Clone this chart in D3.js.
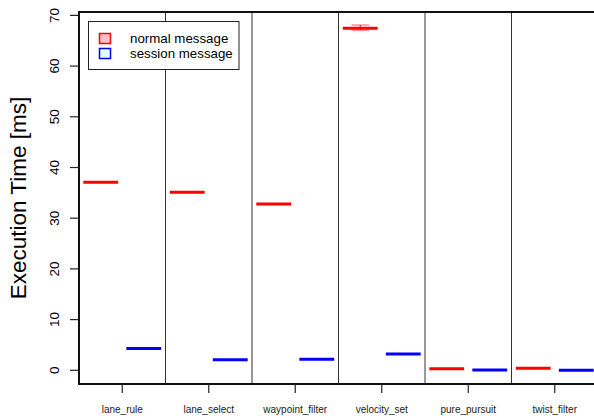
<!DOCTYPE html>
<html>
<head>
<meta charset="utf-8">
<script src="https://cdn.jsdelivr.net/npm/d3@7"></script>
<style>
  html, body { margin: 0; padding: 0; background: #fff; overflow: hidden; }
  text { font-family: "Liberation Sans", Arial, sans-serif; }
</style>
</head>
<body>
<div id="chart"></div>
<script>
// categories & values (ms)
const categories = ['lane_rule', 'lane_select', 'waypoint_filter', 'velocity_set', 'pure_pursuit', 'twist_filter'];
const seriesNames = ['normal message', 'session message'];
const normalMedian = [37.1, 35.1, 32.8, 67.45, 0.3, 0.4];
const normalLow    = [37.1, 35.1, 32.8, 67.05, 0.3, 0.4];
const normalHigh   = [37.1, 35.1, 32.8, 68.1, 0.3, 0.4];
const sessionMedian = [4.3, 2.1, 2.2, 3.2, 0.06, 0.0];
const yTicks = [0, 10, 20, 30, 40, 50, 60, 70];

const W = 594, H = 418;
const svg = d3.select('#chart').append('svg')
    .attr('width', W).attr('height', H);

const plotL = 79, plotT = 12, plotB = 384, step = 86.5;

const x = d3.scaleBand().domain(categories).range([plotL, plotL + step * categories.length]);
const inner = d3.scaleBand().domain(seriesNames).range([0, x.bandwidth()]).paddingInner(0.19).paddingOuter(0.1);
const y = d3.scaleLinear().domain([0, 70]).range([370.3, 15.4]);

const colors = { 'normal message': '#ff0000', 'session message': '#0000ff' };
const fills = { 'normal message': '#ffc0cb', 'session message': '#e0ffff' };

// separators between groups
svg.append('g').selectAll('line')
    .data(categories.slice(1))
    .join('line')
    .attr('x1', d => x(d)).attr('x2', d => x(d))
    .attr('y1', plotT).attr('y2', plotB)
    .attr('stroke', '#333').attr('stroke-width', 1);

// whiskers + staples (only visible where spread exists)
const normalData = categories.map((c, i) => ({ c, s: 'normal message', med: normalMedian[i], lo: normalLow[i], hi: normalHigh[i] }));
const sessionData = categories.map((c, i) => ({ c, s: 'session message', med: sessionMedian[i], lo: sessionMedian[i], hi: sessionMedian[i] }));
const allData = normalData.concat(sessionData);

const marks = svg.append('g');
const cx = d => x(d.c) + inner(d.s) + inner.bandwidth() / 2;
const spread = allData.filter(d => d.hi > d.lo);

marks.selectAll('line.whisker')
    .data(spread)
    .join('line')
    .attr('class', 'whisker')
    .attr('x1', cx).attr('x2', cx)
    .attr('y1', d => y(d.hi)).attr('y2', d => y(d.lo))
    .attr('stroke', d => colors[d.s]).attr('stroke-width', 1).attr('stroke-dasharray', '2,1');

['hi', 'lo'].forEach(k => {
    marks.selectAll('line.staple-' + k)
        .data(spread)
        .join('line')
        .attr('class', 'staple-' + k)
        .attr('x1', d => cx(d) - inner.bandwidth() / 4)
        .attr('x2', d => cx(d) + inner.bandwidth() / 4)
        .attr('y1', d => y(d[k])).attr('y2', d => y(d[k]))
        .attr('stroke', colors['normal message']).attr('stroke-opacity', 0.45).attr('stroke-width', 1.5);
});

marks.selectAll('line.median')
    .data(allData)
    .join('line')
    .attr('class', 'median')
    .attr('x1', d => x(d.c) + inner(d.s))
    .attr('x2', d => x(d.c) + inner(d.s) + inner.bandwidth())
    .attr('y1', d => y(d.med)).attr('y2', d => y(d.med))
    .attr('stroke', d => colors[d.s]).attr('stroke-width', 3);

// plot frame
svg.append('rect')
    .attr('x', plotL).attr('y', plotT)
    .attr('width', step * categories.length).attr('height', plotB - plotT)
    .attr('fill', 'none').attr('stroke', '#111').attr('stroke-width', 2);

// y axis ticks & labels
const yAxis = svg.append('g');
yAxis.selectAll('line')
    .data(yTicks)
    .join('line')
    .attr('x1', plotL - 9).attr('x2', plotL)
    .attr('y1', d => y(d)).attr('y2', d => y(d))
    .attr('stroke', '#222').attr('stroke-width', 1.2);
yAxis.selectAll('text')
    .data(yTicks)
    .join('text')
    .attr('transform', d => `translate(58.5,${y(d)}) rotate(-90)`)
    .attr('text-anchor', 'middle')
    .style('font-size', '13.5px')
    .style('fill', '#000')
    .text(d => d);

// x axis ticks & labels
const xAxis = svg.append('g');
xAxis.selectAll('line')
    .data(categories)
    .join('line')
    .attr('x1', d => x(d) + x.bandwidth() / 2).attr('x2', d => x(d) + x.bandwidth() / 2)
    .attr('y1', plotB).attr('y2', plotB + 9)
    .attr('stroke', '#222').attr('stroke-width', 1.2);
xAxis.selectAll('text')
    .data(categories)
    .join('text')
    .attr('x', d => x(d) + x.bandwidth() / 2)
    .attr('y', 413)
    .attr('text-anchor', 'middle')
    .style('font-size', '10px')
    .style('fill', '#222')
    .text(d => d);

// y axis title
svg.append('text')
    .attr('transform', `translate(26,${(plotT + plotB) / 2}) rotate(-90)`)
    .attr('text-anchor', 'middle')
    .style('font-size', '22.5px')
    .style('fill', '#000')
    .text('Execution Time [ms]');

// legend
const legend = svg.append('g');
legend.append('rect')
    .attr('x', 88.5).attr('y', 21.5).attr('width', 150.5).attr('height', 48)
    .attr('fill', '#fff').attr('stroke', '#222').attr('stroke-width', 1);
const items = legend.selectAll('g.item')
    .data(seriesNames)
    .join('g')
    .attr('class', 'item')
    .attr('transform', (d, i) => `translate(0,${i * 15})`);
items.append('rect')
    .attr('x', 99.5).attr('y', 33.5).attr('width', 11).attr('height', 10)
    .attr('fill', d => fills[d]).attr('stroke', d => colors[d]).attr('stroke-width', 1.5);
items.append('text')
    .attr('x', 130).attr('y', 42.5)
    .style('font-size', '13.3px')
    .style('fill', '#000')
    .text(d => d);
</script>
</body>
</html>
